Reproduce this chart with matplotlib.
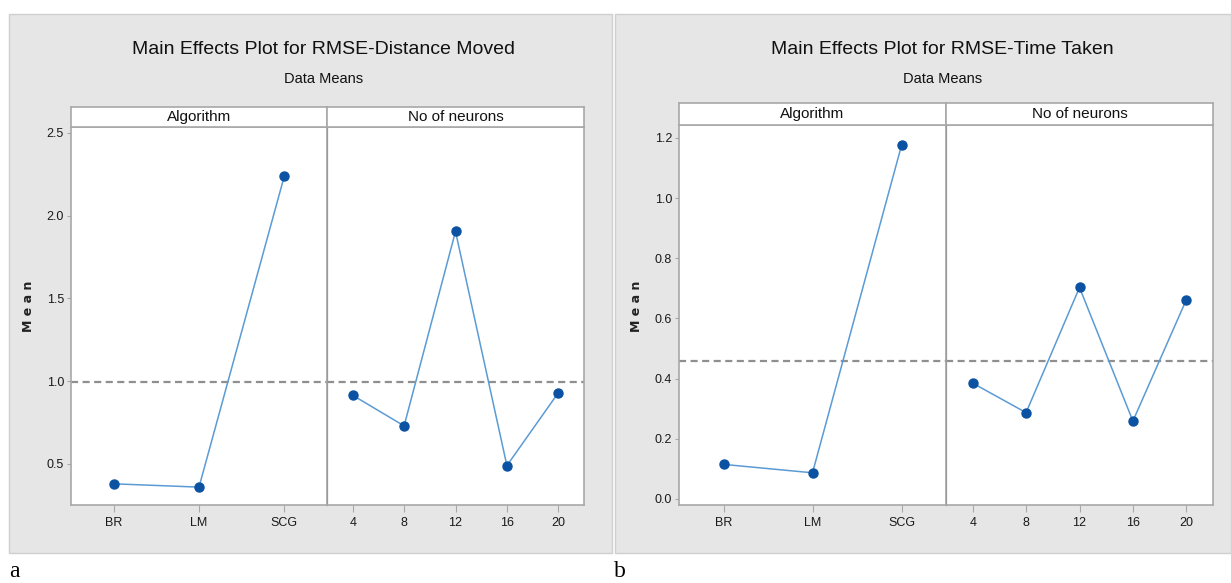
"""Main effects plots (data means) for the RMSE of distance moved and time taken."""

import matplotlib

matplotlib.use("Agg")
import matplotlib.pyplot as plt
from matplotlib.patches import Rectangle

W, H = 1231, 583

# Factor levels
algorithms = ["BR", "LM", "SCG"]
neurons = ["4", "8", "12", "16", "20"]

# Mean RMSE - distance moved
dist_algo = [0.38, 0.36, 2.24]
dist_neur = [0.915, 0.73, 1.905, 0.49, 0.93]
dist_ticks = [0.5, 1.0, 1.5, 2.0, 2.5]

# Mean RMSE - time taken
time_algo = [0.115, 0.087, 1.175]
time_neur = [0.385, 0.287, 0.703, 0.259, 0.662]
time_ticks = [0.0, 0.2, 0.4, 0.6, 0.8, 1.0, 1.2]

SANS = ["Liberation Sans", "DejaVu Sans"]
BG = "#e6e6e6"
FRAME = "#a8a8a8"
LINE = "#5b9bd5"
MARK = "#0b52a3"


def px(x, y, w, h):
    """Pixel box (top-left origin) -> figure fraction rect."""
    return [x / W, 1 - (y + h) / H, w / W, h / H]


def panel(fig, left, mid, right, top, strip_bot, bottom, ylim, ticks,
          algo, neur, title, ylabel_x, tag, tag_x, bg_box):
    bx0, bx1 = bg_box
    fig.patches.append(Rectangle((bx0 / W, 1 - 553 / H), (bx1 - bx0) / W,
                                 (553 - 14) / H, transform=fig.transFigure,
                                 facecolor=BG, edgecolor="#cfcfcf", lw=1,
                                 zorder=-10))

    grand = (sum(algo) / len(algo) + sum(neur) / len(neur)) / 2

    axes = []
    for levels, vals, x0, x1 in [(algorithms, algo, left, mid),
                                 (neurons, neur, mid, right)]:
        ax = fig.add_axes(px(x0, strip_bot, x1 - x0, bottom - strip_bot))
        xs = range(len(levels))
        ax.plot(xs, vals, color=LINE, lw=1.1, zorder=3)
        ax.plot(xs, vals, "o", color=MARK, ms=6.5, zorder=4)
        ax.axhline(grand, color="#8f8f8f", lw=1.6, ls=(0, (3.2, 2)), zorder=2)
        ax.set_xlim(-0.5, len(levels) - 0.5)
        ax.set_ylim(*ylim)
        ax.set_xticks(list(xs))
        ax.set_xticklabels(levels, family=SANS, fontsize=9,
                           color="#1a1a1a")
        ax.tick_params(axis="x", length=5, width=0.8, color=FRAME, pad=4)
        for s in ax.spines.values():
            s.set_color(FRAME)
            s.set_linewidth(1.2)
        axes.append(ax)

    a1, a2 = axes
    a1.set_yticks(ticks)
    a1.set_yticklabels([f"{t:.1f}" for t in ticks], family=SANS,
                       fontsize=9, color="#1a1a1a")
    a1.tick_params(axis="y", length=3, width=0.8, color=FRAME, pad=2)
    # divider between the two factor panels
    a2.spines["left"].set_color("#9a9a9a")
    a2.spines["left"].set_linewidth(0.9)
    a2.set_yticks([])

    # factor strips
    for name, x0, x1 in [("Algorithm", left, mid), ("No of neurons", mid, right)]:
        sa = fig.add_axes(px(x0, top, x1 - x0, strip_bot - top))
        sa.set_xticks([])
        sa.set_yticks([])
        for s in sa.spines.values():
            s.set_color(FRAME)
            s.set_linewidth(1.2)
        sa.text(0.5, 0.5, name, ha="center", va="center", family=SANS,
                fontsize=11, color="#111111", transform=sa.transAxes)

    cx = (left + right) / 2 / W
    fig.text(cx - 0.003, 1 - 50 / H, title, ha="center", va="center",
             family=SANS, fontsize=14, color="#111111")
    fig.text(cx - 0.003, 1 - 79 / H, "Data Means", ha="center", va="center",
             family=SANS, fontsize=10.5, color="#111111")
    fig.text(ylabel_x / W, 1 - 306 / H, "M e a n", rotation=90, ha="center",
             va="center", fontsize=9, fontweight="bold", color="#222222")
    fig.text(tag_x / W, 1 - 577 / H, tag, ha="left", va="baseline",
             family=["Liberation Serif", "DejaVu Serif"], fontsize=17,
             color="black")


fig = plt.figure(figsize=(W / 100, H / 100), dpi=100)
fig.patch.set_facecolor("white")

panel(fig, 71, 327, 584, 107, 127, 505, (0.252, 2.536), dist_ticks,
      dist_algo, dist_neur, "Main Effects Plot for RMSE-Distance Moved",
      29, "a", 9, (9, 612))
panel(fig, 679, 946, 1213, 103, 125, 505, (-0.020, 1.243), time_ticks,
      time_algo, time_neur, "Main Effects Plot for RMSE-Time Taken",
      637, "b", 614, (615, 1231))

fig.savefig("out.png", dpi=100)
